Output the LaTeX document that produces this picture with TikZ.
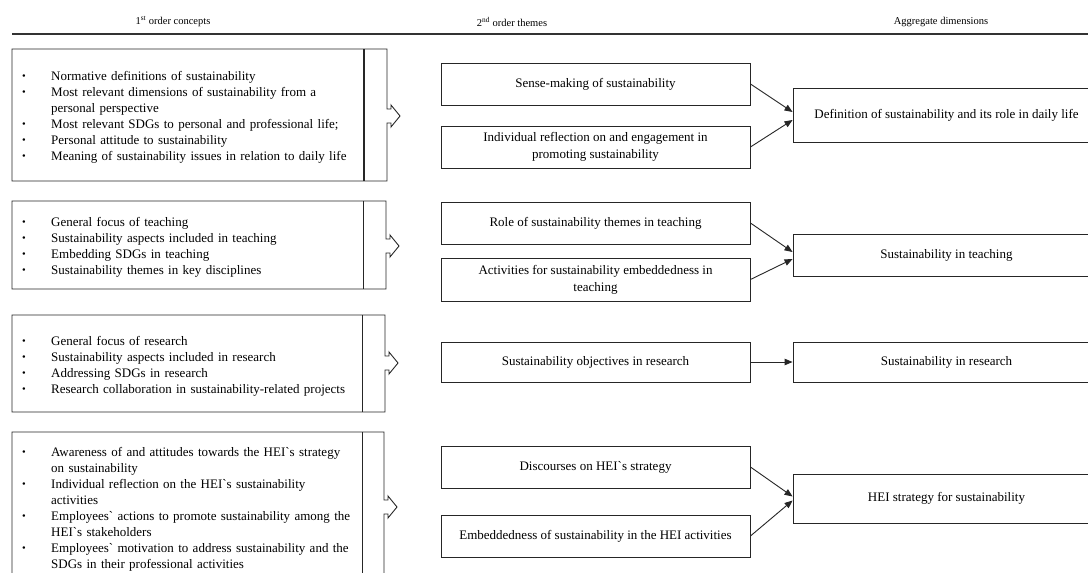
\documentclass[tikz,border=0pt]{standalone}
\usepackage{fontspec}
\setmainfont{Liberation Serif}
\usetikzlibrary{arrows.meta,calc}
\newcommand{\bl}{\makebox[29pt][l]{\raisebox{0.3pt}{\fontsize{10.5}{10}\selectfont\textbullet}}}
\newcommand{\ind}{\hspace*{29pt}}
\newcommand{\drawconceptbox}[6]{% top, bottom, arrow mid, inner x, right x, inner width
  \draw[boxline] (#4,#1) -- (12,#1) -- (12,#2) -- (#5,#2) -- (#5,#3+7) -- (#5+4,#3+7)
     -- (#5+4,#3+11) -- (#5+13,#3) -- (#5+4,#3-11) -- (#5+4,#3-7) -- (#5,#3-7) -- (#5,#1) -- cycle;
  \draw[boxline,line width=#6] (#4,#1) -- (#4,#2);}
\begin{document}
\begin{tikzpicture}[x=1pt,y=-1pt,
  boxline/.style={draw=black!85,line width=0.9pt},
  listtext/.style={anchor=base west,inner sep=0pt,text width=345pt,align=left,
    font=\fontsize{13}{16}\selectfont,text=black},
  themebox/.style={draw=black!85,line width=0.9pt,minimum width=309pt,inner sep=0pt,
    align=center,font=\fontsize{13}{17}\selectfont,text=black},
  aggbox/.style={draw=black!85,line width=0.9pt,minimum width=307pt,inner sep=0pt,
    align=center,font=\fontsize{13}{17}\selectfont,text=black},
  headtext/.style={font=\fontsize{10.5}{12}\selectfont,inner sep=0pt,text=black},
  link/.style={draw=black!85,line width=0.9pt,-{Triangle[length=8pt,width=6.5pt]}}
]
\useasboundingbox (0,0) rectangle (1088,573);
\fill[white] (0,0) rectangle (1088,573);

% headers
\node[headtext] (h1) at (173,22) {1\textsuperscript{st} order concepts};
\node[headtext] (h2) at (512,22) {2\textsuperscript{nd} order themes};
\node[headtext] (h3) at (941,22) {Aggregate dimensions};
\draw[draw=black!80,line width=1.1pt] (12,34) -- (1088,34);

% concept boxes
\drawconceptbox{49}{181}{116}{364}{387}{1.6pt}
\drawconceptbox{201}{289}{246}{363}{386}{0.9pt}
\drawconceptbox{315}{412}{363}{362}{385}{0.9pt}
\drawconceptbox{432}{585}{507}{362}{384}{0.9pt}

\node[listtext] (c1) at (22,80) {%
\bl Normative definitions of sustainability\\
\bl \makebox[302pt][s]{Most relevant dimensions of sustainability from a}\\
\ind personal perspective\\
\bl Most relevant SDGs to personal and professional life;\\
\bl Personal attitude to sustainability\\
\bl Meaning of sustainability issues in relation to daily life};

\node[listtext] (c2) at (22,226) {%
\bl General focus of teaching\\
\bl Sustainability aspects included in teaching\\
\bl Embedding SDGs in teaching\\
\bl Sustainability themes in key disciplines};

\node[listtext] (c3) at (22,345) {%
\bl General focus of research\\
\bl Sustainability aspects included in research\\
\bl Addressing SDGs in research\\
\bl Research collaboration in sustainability-related projects};

\node[listtext] (c4) at (22,456) {%
\bl Awareness of and attitudes towards the HEI\textasciigrave s strategy\\
\ind on sustainability\\
\bl Individual reflection on the HEI\textasciigrave s sustainability\\
\ind activities\\
\bl Employees\textasciigrave\ actions to promote sustainability among the\\
\ind HEI\textasciigrave s stakeholders\\
\bl Employees\textasciigrave\ motivation to address sustainability and the\\
\ind SDGs in their professional activities};

% 2nd order themes
\node[themebox,minimum height=42pt] (m1a) at (595.5,84) {Sense-making of sustainability};
\node[themebox,minimum height=42pt] (m1b) at (595.5,147) {Individual reflection on and engagement in\\promoting sustainability};
\node[themebox,minimum height=42pt] (m2a) at (595.5,223) {Role of sustainability themes in teaching};
\node[themebox,minimum height=43pt] (m2b) at (595.5,279.5) {Activities for sustainability embeddedness in\\teaching};
\node[themebox,minimum height=40pt] (m3) at (595.5,362) {Sustainability objectives in research};
\node[themebox,minimum height=42pt] (m4a) at (595.5,467) {Discourses on HEI\textasciigrave s strategy};
\node[themebox,minimum height=42pt] (m4b) at (595.5,536) {Embeddedness of sustainability in the HEI activities};

% aggregate dimensions
\node[aggbox,minimum height=54pt] (a1) at (946.5,115) {Definition of sustainability and its role in daily life};
\node[aggbox,minimum height=42pt] (a2) at (946.5,255) {Sustainability in teaching};
\node[aggbox,minimum height=40pt] (a3) at (946.5,362) {Sustainability in research};
\node[aggbox,minimum height=49pt] (a4) at (946.5,498.5) {HEI strategy for sustainability};

% links
\draw[link] (m1a.east) -- ($(a1.west)+(0,-3)$);
\draw[link] (m1b.east) -- ($(a1.west)+(0,5)$);
\draw[link] (m2a.east) -- ($(a2.west)+(0,-3)$);
\draw[link] (m2b.east) -- ($(a2.west)+(0,4)$);
\draw[link] (m3.east) -- (a3.west);
\draw[link] (m4a.east) -- ($(a4.west)+(0,-2)$);
\draw[link] (m4b.east) -- ($(a4.west)+(0,2)$);
\end{tikzpicture}
\end{document}
